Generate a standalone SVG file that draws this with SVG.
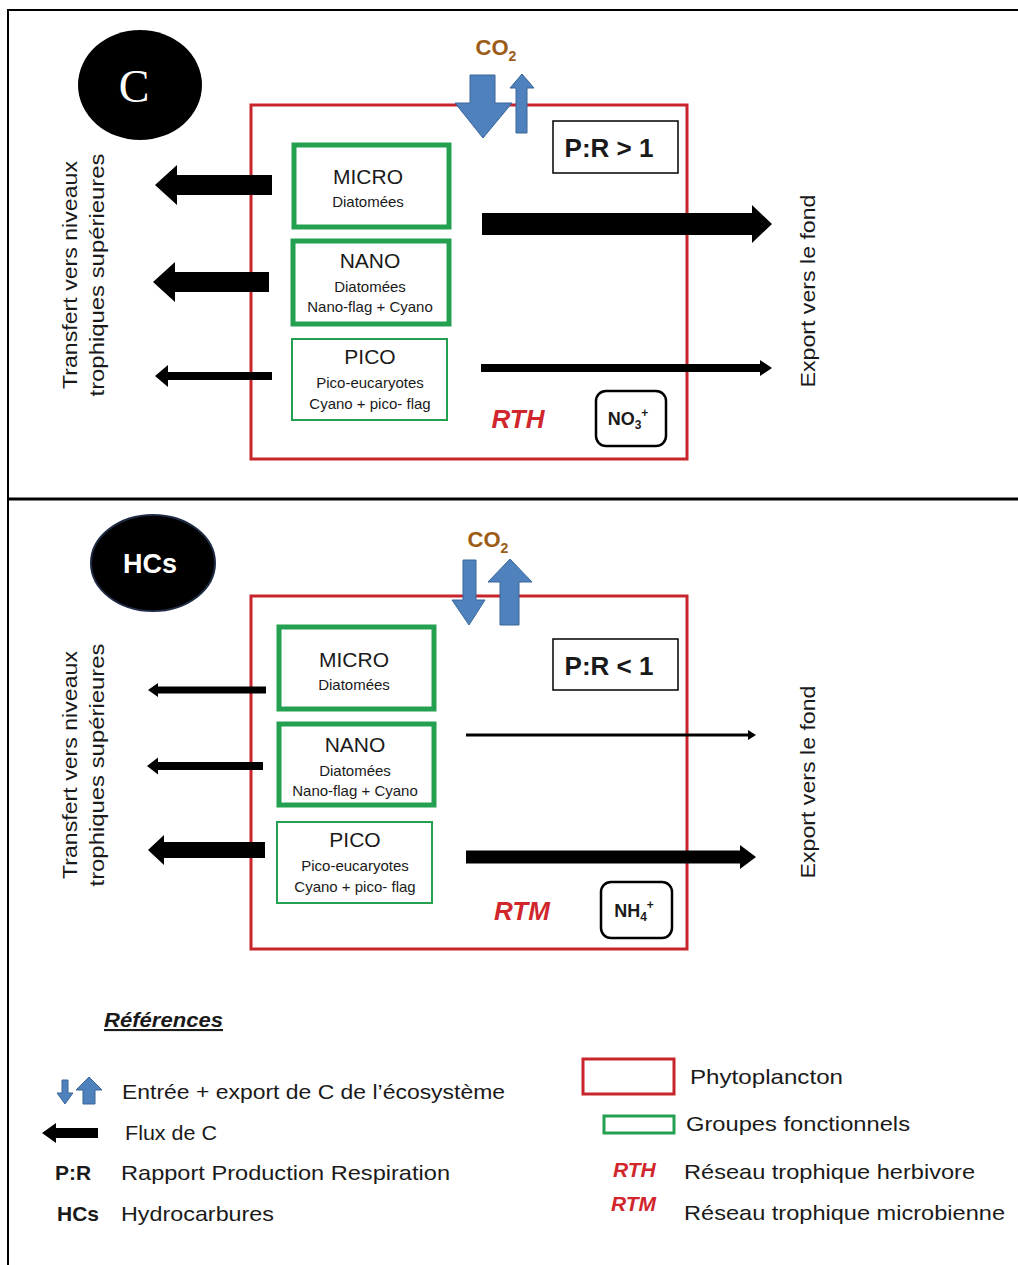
<svg xmlns="http://www.w3.org/2000/svg" width="1018" height="1265" viewBox="0 0 1018 1265">
  <style>
    text { font-family: "Liberation Sans", Arial, sans-serif; fill: #1a1a1a; }
    .frame { fill: none; stroke: #000; stroke-width: 2; }
    .phyto { fill: none; stroke: #c8242b; stroke-width: 3; }
    .grp-thick { fill: #fff; stroke: #23a050; stroke-width: 5; }
    .grp-thin { fill: #fff; stroke: #23a050; stroke-width: 2; }
    .box { fill: #fff; stroke: #000; stroke-width: 1.5; }
    .nut { fill: #fff; stroke: #000; stroke-width: 2.5; }
    .flux { fill: #000; }
    .co2arrow { fill: #4f81bd; stroke: #3a6699; stroke-width: 1; }
    .grp-title { font-size: 21px; text-anchor: middle; }
    .grp-sub { font-size: 15px; text-anchor: middle; }
    .co2 { font-size: 22px; font-weight: bold; fill: #9c5b16; text-anchor: middle; }
    .pr { font-size: 26px; font-weight: bold; text-anchor: middle; }
    .web { font-size: 26px; font-weight: bold; font-style: italic; fill: #d0262c; text-anchor: middle; }
    .nutlbl { font-size: 18px; font-weight: bold; text-anchor: middle; }
    .side { font-size: 21px; text-anchor: middle; }
    .leg { font-size: 21px; }
    .legb { font-size: 21px; font-weight: bold; }
    .legweb { font-size: 21px; font-weight: bold; font-style: italic; fill: #d0262c; }
  </style>

  <!-- outer frame and panel divider -->
  <g id="frame">
    <line class="frame" x1="8" y1="10" x2="1018" y2="10"/>
    <line class="frame" x1="8" y1="9" x2="8" y2="1265"/>
    <line x1="8" y1="499" x2="1018" y2="499" stroke="#000" stroke-width="3"/>
  </g>

  <!-- ===== Panel C ===== -->
  <g id="panel-c">
    <g id="c-badge">
      <ellipse cx="140" cy="85" rx="62" ry="55" fill="#000"/>
      <text x="134" y="102" font-size="46" text-anchor="middle" style="font-family:'Liberation Serif','Times New Roman',serif;fill:#fff">C</text>
    </g>
    <rect id="c-phyto" class="phyto" x="251" y="105" width="436" height="354"/>
    <g id="c-co2">
      <text class="co2" x="496" y="55">CO<tspan font-size="14" dy="6">2</tspan></text>
      <polygon class="co2arrow" points="470,75 495,75 495,103 512,103 483,138 455,103 470,103"/>
      <polygon class="co2arrow" points="516,133 527,133 527,88 534,88 522,74 510,88 516,88"/>
    </g>
    <g id="c-pr">
      <rect class="box" x="553" y="121" width="125" height="52"/>
      <text class="pr" x="609" y="157">P:R &gt; 1</text>
    </g>
    <g id="c-micro">
      <rect class="grp-thick" x="294" y="145" width="155" height="82"/>
      <text class="grp-title" x="368" y="184">MICRO</text>
      <text class="grp-sub" x="368" y="207">Diatomées</text>
    </g>
    <g id="c-nano">
      <rect class="grp-thick" x="293" y="241" width="156" height="83"/>
      <text class="grp-title" x="370" y="268">NANO</text>
      <text class="grp-sub" x="370" y="292">Diatomées</text>
      <text class="grp-sub" x="370" y="312">Nano-flag + Cyano</text>
    </g>
    <g id="c-pico">
      <rect class="grp-thin" x="292" y="339" width="155" height="81"/>
      <text class="grp-title" x="370" y="364">PICO</text>
      <text class="grp-sub" x="370" y="388">Pico-eucaryotes</text>
      <text class="grp-sub" x="370" y="409">Cyano + pico- flag</text>
    </g>
    <text id="c-rth" class="web" x="518" y="428">RTH</text>
    <g id="c-no3">
      <rect class="nut" x="596" y="391" width="70" height="55" rx="10"/>
      <text class="nutlbl" x="628" y="425">NO<tspan font-size="12" dy="4">3</tspan><tspan font-size="12" dy="-12">+</tspan></text>
    </g>
    <text class="side" transform="translate(77,275) rotate(-90)" textLength="228" lengthAdjust="spacingAndGlyphs">Transfert vers niveaux</text>
    <text class="side" transform="translate(104,275) rotate(-90)" textLength="243" lengthAdjust="spacingAndGlyphs">trophiques supérieures</text>
    <text class="side" transform="translate(815,291) rotate(-90)" textLength="193" lengthAdjust="spacingAndGlyphs">Export vers le fond</text>
  </g>

  <!-- ===== Panel HCs ===== -->
  <g id="panel-hcs">
    <g id="hcs-badge">
      <ellipse cx="153" cy="563" rx="62" ry="48" fill="#000" stroke="#1f2b45" stroke-width="2"/>
      <text x="150" y="573" font-size="27" font-weight="bold" text-anchor="middle" style="fill:#fff">HCs</text>
    </g>
    <rect id="hcs-phyto" class="phyto" x="251" y="596" width="436" height="353"/>
    <g id="hcs-co2">
      <text class="co2" x="488" y="547">CO<tspan font-size="14" dy="6">2</tspan></text>
      <polygon class="co2arrow" points="463,560 476,560 476,600 485,600 469,625 452,600 463,600"/>
      <polygon class="co2arrow" points="500,625 519,625 519,582 532,582 510,559 488,582 500,582"/>
    </g>
    <g id="hcs-pr">
      <rect class="box" x="553" y="639" width="125" height="51"/>
      <text class="pr" x="609" y="675">P:R &lt; 1</text>
    </g>
    <g id="hcs-micro">
      <rect class="grp-thick" x="279" y="627" width="155" height="82"/>
      <text class="grp-title" x="354" y="667">MICRO</text>
      <text class="grp-sub" x="354" y="690">Diatomées</text>
    </g>
    <g id="hcs-nano">
      <rect class="grp-thick" x="279" y="724" width="155" height="81"/>
      <text class="grp-title" x="355" y="752">NANO</text>
      <text class="grp-sub" x="355" y="776">Diatomées</text>
      <text class="grp-sub" x="355" y="796">Nano-flag + Cyano</text>
    </g>
    <g id="hcs-pico">
      <rect class="grp-thin" x="277" y="822" width="155" height="81"/>
      <text class="grp-title" x="355" y="847">PICO</text>
      <text class="grp-sub" x="355" y="871">Pico-eucaryotes</text>
      <text class="grp-sub" x="355" y="892">Cyano + pico- flag</text>
    </g>
    <text id="hcs-rtm" class="web" x="522" y="920">RTM</text>
    <g id="hcs-nh4">
      <rect class="nut" x="601" y="882" width="71" height="56" rx="10"/>
      <text class="nutlbl" x="634" y="917">NH<tspan font-size="12" dy="4">4</tspan><tspan font-size="12" dy="-12">+</tspan></text>
    </g>
    <text class="side" transform="translate(77,765) rotate(-90)" textLength="228" lengthAdjust="spacingAndGlyphs">Transfert vers niveaux</text>
    <text class="side" transform="translate(104,765) rotate(-90)" textLength="243" lengthAdjust="spacingAndGlyphs">trophiques supérieures</text>
    <text class="side" transform="translate(815,782) rotate(-90)" textLength="193" lengthAdjust="spacingAndGlyphs">Export vers le fond</text>
  </g>

  <!-- carbon flux arrows -->
  <g id="connectors">
    <!-- panel C: transfer to higher levels -->
    <polygon class="flux" points="155,185 177,165 177,175 272,175 272,195 177,195 177,205"/>
    <polygon class="flux" points="153,282 175,262 175,272 269,272 269,292 175,292 175,302"/>
    <polygon class="flux" points="155,376 168,365 168,372 272,372 272,380 168,380 168,387"/>
    <!-- panel C: export to the bottom -->
    <polygon class="flux" points="482,213 752,213 752,205 772,224 752,243 752,235 482,235"/>
    <polygon class="flux" points="481,364 760,364 760,360 772,368 760,376 760,372 481,372"/>
    <!-- panel HCs: transfer to higher levels -->
    <polygon class="flux" points="148,690 158,683 158,686.5 266,686.5 266,693.5 158,693.5 158,697"/>
    <polygon class="flux" points="147,766 158,757.5 158,762 263,762 263,770 158,770 158,774.5"/>
    <polygon class="flux" points="148,850 164,835 164,842 265,842 265,858 164,858 164,865"/>
    <!-- panel HCs: export to the bottom -->
    <polygon class="flux" points="466,733.5 748,733.5 748,730 756,735 748,740 748,736.5 466,736.5"/>
    <polygon class="flux" points="466,850.5 740,850.5 740,845 756,857 740,869 740,863.5 466,863.5"/>
  </g>

  <!-- ===== Legend ===== -->
  <g id="legend">
    <text x="104" y="1027" font-size="21" font-weight="bold" font-style="italic" text-decoration="underline" textLength="119" lengthAdjust="spacingAndGlyphs">Références</text>

    <polygon class="co2arrow" points="62,1080 68,1080 68,1093 73,1093 65,1104 57,1093 62,1093"/>
    <polygon class="co2arrow" points="83,1104 95,1104 95,1090 102,1090 89,1077 76,1090 83,1090"/>
    <text class="leg" x="122" y="1099" textLength="383" lengthAdjust="spacingAndGlyphs">Entrée + export de C de l’écosystème</text>

    <polygon class="flux" points="42,1133 56,1123 56,1128 98,1128 98,1138 56,1138 56,1143"/>
    <text class="leg" x="125" y="1140" textLength="92" lengthAdjust="spacingAndGlyphs">Flux de C</text>

    <text class="legb" x="55" y="1180">P:R</text>
    <text class="leg" x="121" y="1180" textLength="329" lengthAdjust="spacingAndGlyphs">Rapport Production Respiration</text>

    <text class="legb" x="57" y="1221">HCs</text>
    <text class="leg" x="121" y="1221" textLength="153" lengthAdjust="spacingAndGlyphs">Hydrocarbures</text>

    <rect class="phyto" x="583" y="1059" width="91" height="35"/>
    <text class="leg" x="690" y="1084" textLength="153" lengthAdjust="spacingAndGlyphs">Phytoplancton</text>

    <rect x="604" y="1116" width="70" height="17" fill="#fff" stroke="#23a050" stroke-width="3"/>
    <text class="leg" x="686" y="1131" textLength="224" lengthAdjust="spacingAndGlyphs">Groupes fonctionnels</text>

    <text class="legweb" x="613" y="1177">RTH</text>
    <text class="leg" x="684" y="1179" textLength="291" lengthAdjust="spacingAndGlyphs">Réseau trophique herbivore</text>

    <text class="legweb" x="611" y="1211">RTM</text>
    <text class="leg" x="684" y="1220" textLength="321" lengthAdjust="spacingAndGlyphs">Réseau trophique microbienne</text>
  </g>
</svg>
